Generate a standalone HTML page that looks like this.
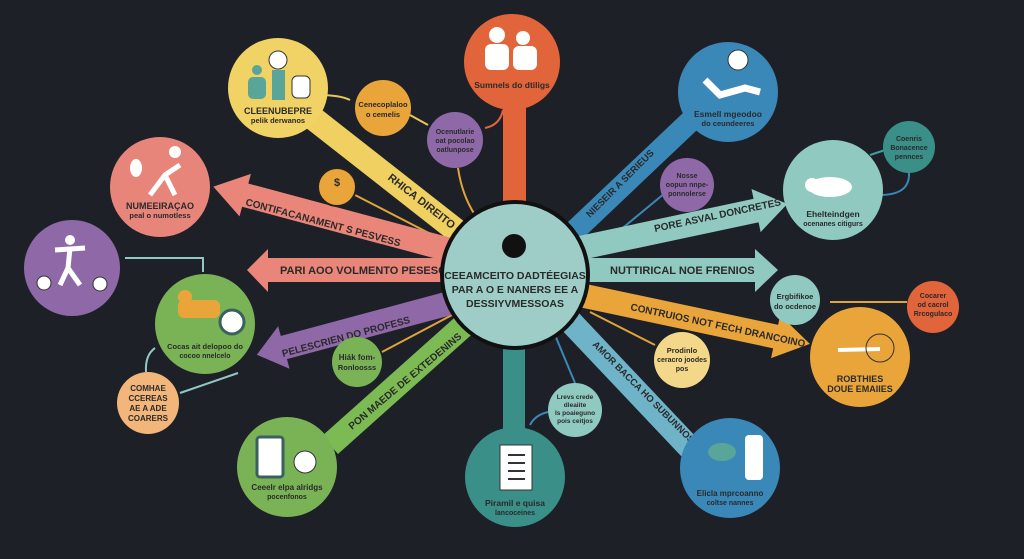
<!DOCTYPE html>
<html><head><meta charset="utf-8"><style>
html,body{margin:0;padding:0;background:#1e2028;}
svg{display:block}
text{font-family:"Liberation Sans",sans-serif;font-weight:bold;fill:#2a2a2a;}
</style></head><body>
<svg width="1024" height="559" viewBox="0 0 1024 559" xmlns="http://www.w3.org/2000/svg">
<rect width="1024" height="559" fill="#1e2028"/>
<!-- thin connectors -->
<g fill="none" stroke-width="2">
<line x1="355" y1="195" x2="452" y2="245" stroke="#e0a43a"/>
<path d="M318 95 Q340 95 350 100" stroke="#e8c75a"/>
<line x1="410" y1="115" x2="428" y2="125" stroke="#e8c75a"/>
<path d="M458 168 Q462 195 475 215" stroke="#e0a43a"/>
<path d="M485 128 Q500 125 503 110" stroke="#e2643a"/>
<line x1="665" y1="193" x2="590" y2="255" stroke="#3a88b8"/>
<path d="M870 155 L885 150" stroke="#3aa0a0"/>
<path d="M909 173 Q910 195 880 195" stroke="#3a88b8"/>
<path d="M125 258 L203 258 L203 272" stroke="#8fc9c0"/>
<path d="M155 348 Q145 355 146 372" stroke="#8fc9c0"/>
<line x1="180" y1="393" x2="238" y2="373" stroke="#8fc9c0"/>
<line x1="382" y1="352" x2="452" y2="315" stroke="#e0a43a"/>
<line x1="590" y1="312" x2="655" y2="345" stroke="#e0a43a"/>
<line x1="555" y1="335" x2="575" y2="383" stroke="#3a88b8"/>
<path d="M530 425 Q535 415 548 412" stroke="#3a88b8"/>
<line x1="830" y1="302" x2="907" y2="302" stroke="#e0a43a"/>
</g>
<!-- bars -->
<rect x="503" y="100" width="23" height="115" fill="#e2643a"/>
<rect x="503" y="340" width="22" height="95" fill="#3a8f88"/>
<line x1="300" y1="108" x2="462" y2="235" stroke="#efd060" stroke-width="24"/>
<line x1="330" y1="445" x2="470" y2="320" stroke="#7cba54" stroke-width="24"/>
<line x1="567" y1="318" x2="690" y2="448" stroke="#6fb3c8" stroke-width="24"/>
<line x1="565" y1="240" x2="700" y2="112" stroke="#3a88b8" stroke-width="22"/>
<!-- pink diag arrow -->
<g transform="translate(450,250) rotate(195)">
<rect x="0" y="-12" width="215" height="24" fill="#ea857a"/>
<polygon points="212,-22 245,0 212,22" fill="#ea857a"/>
</g>
<!-- pink horizontal -->
<polygon points="450,258 268,258 268,249 247,270 268,292 268,282 450,282" fill="#ea857a"/>
<!-- purple -->
<g transform="translate(450,303) rotate(165)">
<rect x="0" y="-12" width="175" height="24" fill="#8f68a8"/>
<polygon points="172,-22 200,0 172,22" fill="#8f68a8"/>
</g>
<!-- teal horizontal -->
<polygon points="580,258 755,258 755,249 778,270 755,292 755,282 580,282" fill="#8fc9c0"/>
<!-- teal diag -->
<g transform="translate(580,248) rotate(-12)">
<rect x="0" y="-12" width="185" height="24" fill="#8fc9c0"/>
<polygon points="180,-22 212,0 180,22" fill="#8fc9c0"/>
</g>
<!-- orange diag -->
<g transform="translate(580,295) rotate(12)">
<rect x="0" y="-12" width="205" height="24" fill="#e9a53a"/>
<polygon points="200,-22 235,0 200,22" fill="#e9a53a"/>
</g>
<!-- bar labels -->
<text x="385" y="185" font-size="11" transform="rotate(38 395 185)">RHICA DIREITO</text>
<text x="245" y="205" font-size="10" transform="rotate(15 245 205)" fill="#3a2020">CONTIFACANAMENT S PESVESS</text>
<text x="280" y="274" font-size="11">PARI AOO VOLMENTO PESESODAL</text>
<text x="283" y="357" font-size="10" transform="rotate(-15 283 357)">PELESCRIEN DO PROFESS</text>
<text x="352" y="430" font-size="10" transform="rotate(-40 352 430)">PON MAEDE DE EXTEDENINS</text>
<text x="590" y="218" font-size="9.5" transform="rotate(-45 590 218)">NIESEIR A SERIEUS</text>
<text x="655" y="232" font-size="10" transform="rotate(-12 655 232)">PORE ASVAL DONCRETES</text>
<text x="610" y="274" font-size="11">NUTTIRICAL NOE FRENIOS</text>
<text x="630" y="310" font-size="10" transform="rotate(12 630 310)">CONTRUIOS NOT FECH DRANCOINO</text>
<text x="592" y="345" font-size="9.5" transform="rotate(45 592 345)">AMOR BACCA HO SUBUNNOS</text>
<!-- center -->
<circle cx="515" cy="275" r="73" fill="#9ecdc8" stroke="#111" stroke-width="4"/>
<circle cx="514" cy="246" r="12" fill="#111"/>
<text x="515" y="279" font-size="10.5" text-anchor="middle">CEEAMCEITO DADTÉEGIAS</text>
<text x="515" y="293" font-size="10.5" text-anchor="middle">PAR A O E NANERS EE A</text>
<text x="515" y="307" font-size="10.5" text-anchor="middle">DESSIYVMESSOAS</text>
<!-- big circles -->
<circle cx="512" cy="62" r="48" fill="#e2643a"/>
<text x="512" y="88" font-size="8.5" text-anchor="middle">Sumnels do dtiligs</text>
<g fill="#fff"><circle cx="497" cy="35" r="8"/><rect x="485" y="44" width="24" height="26" rx="6"/><circle cx="523" cy="38" r="7"/><rect x="513" y="46" width="24" height="24" rx="6"/></g>
<circle cx="278" cy="88" r="50" fill="#f1d264"/>
<circle cx="257" cy="70" r="5" fill="#5aa59a"/><rect x="248" y="77" width="18" height="22" rx="5" fill="#5aa59a"/>
<circle cx="278" cy="60" r="9" fill="#fff" stroke="#333"/><rect x="272" y="70" width="13" height="30" fill="#5aa59a"/>
<rect x="292" y="76" width="18" height="22" rx="5" fill="#fff" stroke="#333"/>
<text x="278" y="114" font-size="9" text-anchor="middle">CLEENUBEPRE</text>
<text x="278" y="123" font-size="7.5" text-anchor="middle">pelik derwanos</text>
<circle cx="160" cy="187" r="50" fill="#e8857a"/>
<path d="M150 195 L165 175 L180 165 M165 175 L175 195" stroke="#fff" stroke-width="5" fill="none"/><circle cx="175" cy="152" r="6" fill="#fff"/>
<ellipse cx="136" cy="168" rx="6" ry="9" fill="#fff"/>
<text x="160" y="209" font-size="9" text-anchor="middle">NUMEEIRAÇAO</text>
<text x="160" y="218" font-size="7.5" text-anchor="middle">peal o numotless</text>
<circle cx="72" cy="268" r="48" fill="#8f68a8"/>
<circle cx="70" cy="240" r="5" fill="#fff"/><path d="M55 250 L85 248 M70 248 L68 268 L60 285 M68 268 L80 285" stroke="#fff" stroke-width="5" fill="none"/>
<circle cx="44" cy="283" r="7" fill="#fff" stroke="#333"/><circle cx="100" cy="284" r="7" fill="#fff" stroke="#333"/>
<circle cx="205" cy="324" r="50" fill="#7ab356"/>
<rect x="178" y="300" width="42" height="18" rx="6" fill="#e9a53a"/><circle cx="185" cy="297" r="7" fill="#e9a53a"/>
<circle cx="232" cy="322" r="12" fill="#fff" stroke="#3a6060" stroke-width="3"/>
<text x="205" y="349" font-size="7.5" text-anchor="middle">Cocas ait delopoo do</text>
<text x="205" y="358" font-size="7" text-anchor="middle">cocoo nnelcelo</text>
<circle cx="148" cy="403" r="31" fill="#f2b57a"/>
<text x="148" y="391" font-size="8" text-anchor="middle">COMHAE</text>
<text x="148" y="401" font-size="8" text-anchor="middle">CCEREAS</text>
<text x="148" y="411" font-size="8" text-anchor="middle">AE A ADE</text>
<text x="148" y="421" font-size="8" text-anchor="middle">COARERS</text>
<circle cx="287" cy="467" r="50" fill="#7ab356"/>
<rect x="257" y="437" width="26" height="40" rx="3" fill="#fff" stroke="#3a6060" stroke-width="3"/>
<circle cx="305" cy="462" r="11" fill="#fff" stroke="#333"/>
<text x="287" y="490" font-size="8" text-anchor="middle">Ceeelr elpa alridgs</text>
<text x="287" y="499" font-size="7" text-anchor="middle">pocenfonos</text>
<circle cx="515" cy="477" r="50" fill="#3a8f88"/>
<rect x="500" y="445" width="32" height="45" fill="#fff" stroke="#333"/>
<g stroke="#333" stroke-width="2"><line x1="508" y1="455" x2="525" y2="455"/><line x1="508" y1="463" x2="525" y2="463"/><line x1="508" y1="471" x2="525" y2="471"/><line x1="508" y1="479" x2="525" y2="479"/></g>
<text x="515" y="506" font-size="8.5" text-anchor="middle">Piramil e quisa</text>
<text x="515" y="515" font-size="7" text-anchor="middle">lancoceines</text>
<circle cx="730" cy="468" r="50" fill="#3a88b8"/>
<ellipse cx="722" cy="452" rx="14" ry="9" fill="#5aa59a"/><rect x="745" y="435" width="18" height="45" rx="4" fill="#fff"/>
<text x="730" y="496" font-size="8" text-anchor="middle">Elicla mprcoanno</text>
<text x="730" y="505" font-size="7" text-anchor="middle">coltse nannes</text>
<circle cx="860" cy="357" r="50" fill="#e9a53a"/>
<line x1="838" y1="350" x2="880" y2="349" stroke="#fff" stroke-width="4"/><circle cx="880" cy="348" r="14" fill="none" stroke="#333"/>
<text x="860" y="382" font-size="9" text-anchor="middle">ROBTHIES</text>
<text x="860" y="392" font-size="9" text-anchor="middle">DOUE EMAIIES</text>
<circle cx="833" cy="190" r="50" fill="#8fc9c0"/>
<ellipse cx="830" cy="187" rx="22" ry="10" fill="#fff"/><circle cx="812" cy="185" r="7" fill="#fff"/>
<text x="833" y="217" font-size="8.5" text-anchor="middle">Ehelteindgen</text>
<text x="833" y="226" font-size="7" text-anchor="middle">ocenanes citigurs</text>
<circle cx="728" cy="92" r="50" fill="#3a88b8"/>
<circle cx="738" cy="60" r="10" fill="#fff" stroke="#333"/><path d="M705 80 L720 95 L745 88 L760 92" stroke="#fff" stroke-width="7" fill="none"/>
<text x="728" y="117" font-size="8.5" text-anchor="middle">Esmell mgeodoo</text>
<text x="728" y="126" font-size="7.5" text-anchor="middle">do ceundeeres</text>
<!-- small circles -->
<circle cx="383" cy="108" r="28" fill="#e9a53a"/>
<text x="383" y="107" font-size="7.5" text-anchor="middle">Cenecoplaloo</text>
<text x="383" y="117" font-size="7.5" text-anchor="middle">o cemelis</text>
<circle cx="455" cy="140" r="28" fill="#8f68a8"/>
<text x="455" y="134" font-size="7" text-anchor="middle">Ocenutlarie</text>
<text x="455" y="143" font-size="7" text-anchor="middle">oat pocolao</text>
<text x="455" y="152" font-size="7" text-anchor="middle">oatlunpose</text>
<circle cx="337" cy="187" r="19" fill="#e9a53a" stroke="#222" stroke-width="2"/>
<text x="337" y="186" font-size="11" text-anchor="middle">$</text>
<circle cx="687" cy="185" r="27" fill="#8f68a8"/>
<text x="687" y="178" font-size="7" text-anchor="middle">Nosse</text>
<text x="687" y="187" font-size="7" text-anchor="middle">oopun nnpe-</text>
<text x="687" y="196" font-size="7" text-anchor="middle">ponnolerse</text>
<circle cx="909" cy="147" r="26" fill="#3a8f88"/>
<text x="909" y="141" font-size="7" text-anchor="middle">Coenris</text>
<text x="909" y="150" font-size="7" text-anchor="middle">Bonacence</text>
<text x="909" y="159" font-size="7" text-anchor="middle">pennces</text>
<circle cx="795" cy="300" r="25" fill="#8fc9c0"/>
<text x="795" y="299" font-size="7.5" text-anchor="middle">Ergbifikoe</text>
<text x="795" y="309" font-size="7.5" text-anchor="middle">do ocdenoe</text>
<circle cx="933" cy="307" r="26" fill="#e2643a"/>
<text x="933" y="298" font-size="7" text-anchor="middle">Cocarer</text>
<text x="933" y="307" font-size="7" text-anchor="middle">od cacrol</text>
<text x="933" y="316" font-size="7" text-anchor="middle">Rrcogulaco</text>
<circle cx="682" cy="360" r="28" fill="#f4d88a"/>
<text x="682" y="353" font-size="7.5" text-anchor="middle">Prodinlo</text>
<text x="682" y="362" font-size="7" text-anchor="middle">ceracro joodes</text>
<text x="682" y="371" font-size="7" text-anchor="middle">pos</text>
<circle cx="357" cy="362" r="25" fill="#7ab356"/>
<text x="357" y="360" font-size="8" text-anchor="middle">Hiák fom-</text>
<text x="357" y="370" font-size="7.5" text-anchor="middle">Ronloosss</text>
<circle cx="575" cy="410" r="27" fill="#8fc9c0"/>
<text x="575" y="399" font-size="6.5" text-anchor="middle">Lrevs crede</text>
<text x="575" y="407" font-size="6.5" text-anchor="middle">dleaiite</text>
<text x="575" y="415" font-size="6.5" text-anchor="middle">Is poaieguno</text>
<text x="575" y="423" font-size="6.5" text-anchor="middle">pois ceitjos</text>
</svg>
</body></html>
